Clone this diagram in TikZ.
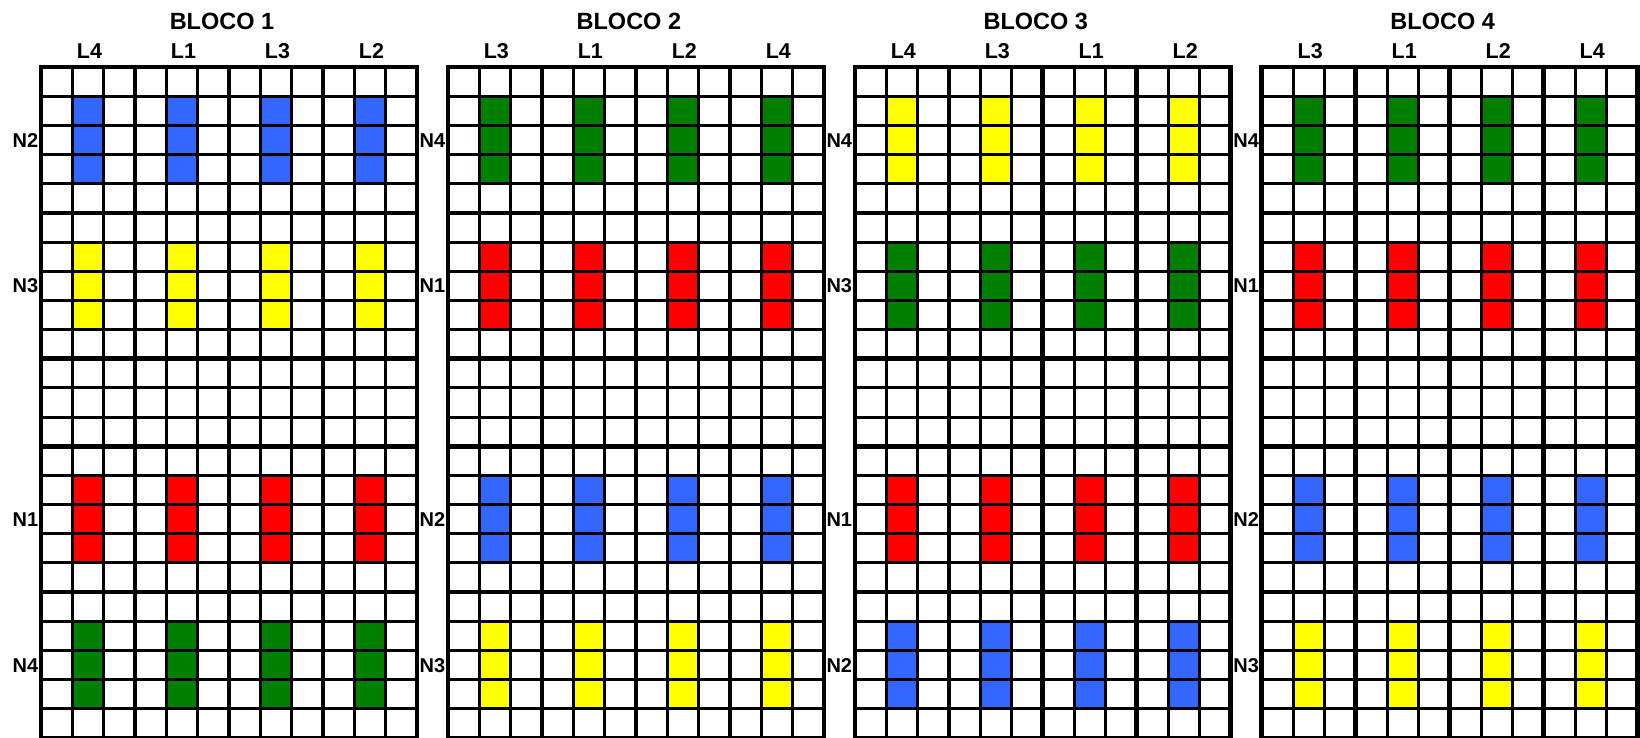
\documentclass[tikz,border=0pt]{standalone}
\usepackage{fontspec}
\setmainfont{Liberation Sans}
\definecolor{cblue}{RGB}{51,102,255}
\definecolor{cred}{RGB}{255,0,0}
\definecolor{cyellow}{RGB}{255,255,0}
\definecolor{cgreen}{RGB}{0,128,0}
\tikzset{
  thinline/.style={line width=3.0pt,black},
  thickline/.style={line width=4.6pt,black},
  titlelabel/.style={font=\fontsize{23.5}{28}\selectfont\bfseries,inner sep=0pt,anchor=base},
  collabel/.style={font=\fontsize{21.5}{26}\selectfont\bfseries,inner sep=0pt,anchor=base},
  rowlabel/.style={font=\fontsize{20}{24}\selectfont\bfseries,inner sep=0pt,anchor=base east},
}
\begin{document}
\begin{tikzpicture}[x=1pt,y=-1pt]
\useasboundingbox[fill=white] (0,0) rectangle (1640,738);
\def\cw{31.33}
\def\rh{29.17}
\def\gtop{67}
\foreach \b/\la/\lb/\lc/\ld/\na/\ca/\nb/\cb/\nd/\cd/\ne/\ce in {
  0/L4/L1/L3/L2/N2/cblue/N3/cyellow/N1/cred/N4/cgreen,
  1/L3/L1/L2/L4/N4/cgreen/N1/cred/N2/cblue/N3/cyellow,
  2/L4/L3/L1/L2/N4/cyellow/N3/cgreen/N1/cred/N2/cblue,
  3/L3/L1/L2/L4/N4/cgreen/N1/cred/N2/cblue/N3/cyellow}{
  \pgfmathsetmacro\xl{41+\b*406.9}
  \pgfmathsetmacro\xr{\xl+12*\cw}
  \pgfmathsetmacro\yb{\gtop+23*\rh}
  % coloured cells
  \foreach \s/\c in {0/\ca,5/\cb,13/\cd,18/\ce}{
    \foreach \k in {0,...,3}{
      \fill[\c] ({\xl+(3*\k+1)*\cw},{\gtop+(\s+1)*\rh}) rectangle ++(\cw,{3*\rh});
    }
  }
  % thin grid
  \foreach \i in {1,...,22}{
    \draw[thinline] (\xl,{\gtop+\i*\rh}) -- (\xr,{\gtop+\i*\rh});
  }
  \foreach \j in {1,...,11}{
    \draw[thinline] ({\xl+\j*\cw},\gtop) -- ({\xl+\j*\cw},\yb);
  }
  % thick group lines
  \foreach \i in {5,10,13,18}{
    \draw[thickline] (\xl,{\gtop+\i*\rh}) -- (\xr,{\gtop+\i*\rh});
  }
  \foreach \j in {3,6,9}{
    \draw[thickline] ({\xl+\j*\cw},\gtop) -- ({\xl+\j*\cw},\yb);
  }
  \draw[thickline] (\xl,\gtop) rectangle (\xr,\yb);
  % labels
  \node[titlelabel] (title\b) at ({\xl+6*\cw-7},30) {BLOCO \the\numexpr\b+1\relax};
  \foreach \t [count=\k from 0] in {\la,\lb,\lc,\ld}{
    \node[collabel] (col\b-\k) at ({\xl+(3*\k+1.5)*\cw+1.5},59) {\t};
  }
  \node[rowlabel] (row\b-1) at ({\xl-2.5},{\gtop+2.5*\rh+7.2}) {\na};
  \node[rowlabel] (row\b-2) at ({\xl-2.5},{\gtop+7.5*\rh+7.2}) {\nb};
  \node[rowlabel] (row\b-4) at ({\xl-2.5},{\gtop+15.5*\rh+7.2}) {\nd};
  \node[rowlabel] (row\b-5) at ({\xl-2.5},{\gtop+20.5*\rh+7.2}) {\ne};
}
\end{tikzpicture}
\end{document}
